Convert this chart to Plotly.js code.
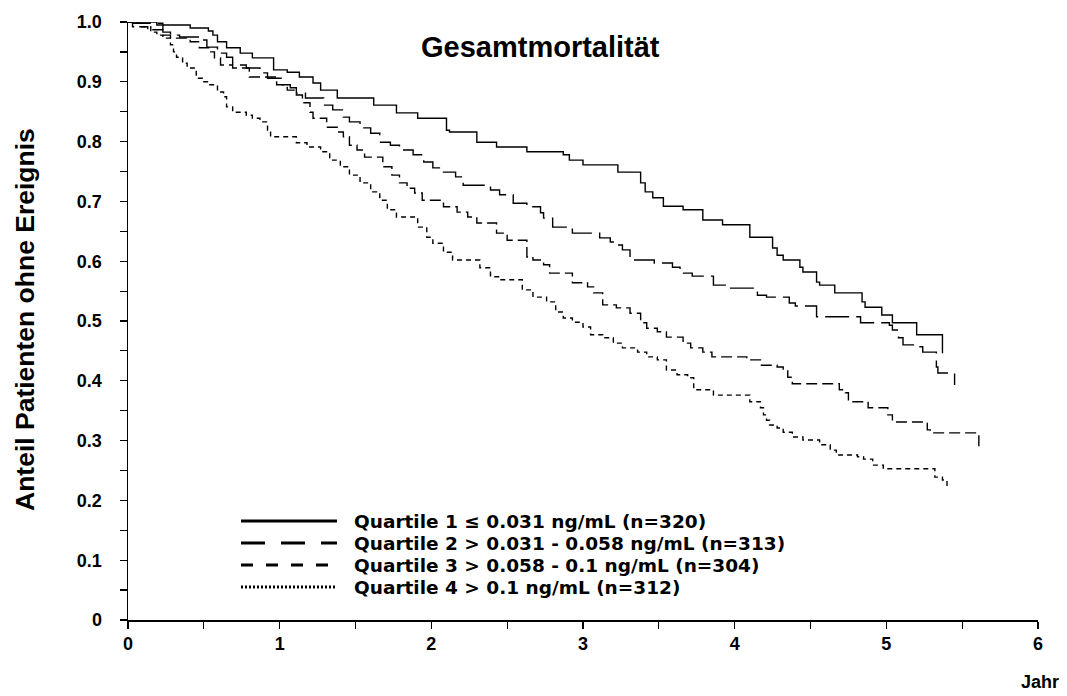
<!DOCTYPE html>
<html>
<head>
<meta charset="utf-8">
<script src="https://cdn.plot.ly/plotly-3.0.1.min.js"></script>
<style>html,body{margin:0;padding:0;background:#fff}#chart{width:1067px;height:696px}</style>
</head>
<body>
<div id="chart"></div>
<script>
// Kaplan-Meier step data (years, proportion without event)
const q1_t = [0,0.19,0.41,0.53,0.56,0.59,0.65,0.74,0.82,0.96,1.05,1.13,1.22,1.27,1.38,1.62,1.77,1.91,2.10,2.12,2.30,2.43,2.63,2.87,2.91,3.00,3.23,3.38,3.41,3.46,3.53,3.66,3.79,3.92,4.10,4.25,4.28,4.32,4.43,4.45,4.54,4.56,4.66,4.84,4.86,4.97,5.04,5.20,5.37];
const q1_s = [1.000,0.995,0.990,0.985,0.978,0.967,0.957,0.948,0.940,0.920,0.916,0.908,0.898,0.886,0.873,0.861,0.848,0.839,0.819,0.816,0.799,0.791,0.783,0.778,0.769,0.761,0.749,0.731,0.716,0.706,0.692,0.686,0.669,0.661,0.640,0.622,0.610,0.602,0.590,0.582,0.565,0.560,0.547,0.532,0.523,0.510,0.497,0.477,0.446];

const q2_t = [0,0.03,0.23,0.28,0.34,0.47,0.52,0.59,0.65,0.69,0.78,0.87,0.92,1.02,1.07,1.11,1.17,1.29,1.35,1.42,1.46,1.53,1.60,1.66,1.73,1.79,1.88,1.95,2.01,2.08,2.16,2.21,2.39,2.45,2.54,2.63,2.72,2.74,2.80,2.93,3.11,3.18,3.23,3.26,3.31,3.47,3.59,3.64,3.72,3.86,3.95,4.15,4.21,4.36,4.40,4.54,4.83,5.02,5.04,5.08,5.11,5.19,5.24,5.33,5.34,5.45];
const q2_s = [1.000,0.998,0.983,0.978,0.975,0.970,0.958,0.948,0.941,0.928,0.923,0.915,0.906,0.895,0.890,0.881,0.873,0.861,0.853,0.841,0.833,0.823,0.814,0.799,0.794,0.786,0.778,0.766,0.756,0.749,0.741,0.727,0.719,0.711,0.697,0.691,0.681,0.672,0.657,0.647,0.639,0.632,0.627,0.619,0.602,0.597,0.590,0.580,0.575,0.560,0.555,0.543,0.540,0.530,0.525,0.507,0.497,0.493,0.485,0.472,0.460,0.457,0.448,0.423,0.413,0.393];

const q3_t = [0,0.03,0.13,0.23,0.28,0.41,0.47,0.54,0.57,0.61,0.69,0.80,0.98,1.05,1.11,1.15,1.20,1.22,1.31,1.38,1.42,1.46,1.51,1.56,1.68,1.74,1.79,1.84,1.89,1.94,2.08,2.17,2.24,2.30,2.43,2.50,2.63,2.67,2.74,2.78,2.93,3.03,3.07,3.13,3.22,3.31,3.38,3.42,3.49,3.55,3.66,3.71,3.79,3.85,4.08,4.17,4.28,4.32,4.35,4.38,4.69,4.73,4.75,4.88,5.01,5.04,5.27,5.29,5.61];
const q3_s = [1.000,0.992,0.987,0.978,0.973,0.967,0.957,0.950,0.940,0.928,0.923,0.908,0.895,0.886,0.878,0.865,0.849,0.839,0.824,0.816,0.808,0.794,0.786,0.774,0.758,0.744,0.731,0.722,0.714,0.702,0.691,0.682,0.674,0.664,0.647,0.635,0.607,0.602,0.594,0.580,0.564,0.557,0.547,0.527,0.522,0.513,0.497,0.488,0.482,0.473,0.463,0.455,0.448,0.440,0.435,0.426,0.423,0.418,0.406,0.395,0.385,0.380,0.365,0.355,0.343,0.331,0.318,0.313,0.288];

const q4_t = [0,0.03,0.08,0.15,0.19,0.23,0.28,0.30,0.32,0.36,0.39,0.45,0.49,0.54,0.59,0.63,0.65,0.69,0.78,0.82,0.87,0.92,0.94,1.11,1.18,1.27,1.33,1.40,1.46,1.53,1.60,1.66,1.71,1.77,1.91,1.97,2.01,2.08,2.14,2.32,2.39,2.45,2.60,2.67,2.76,2.82,2.87,2.93,3.00,3.05,3.13,3.20,3.26,3.36,3.42,3.49,3.55,3.62,3.69,3.73,3.86,4.10,4.17,4.19,4.21,4.23,4.28,4.32,4.38,4.45,4.56,4.63,4.67,4.81,4.85,4.91,4.98,5.32,5.37,5.40];
const q4_s = [1.000,0.998,0.992,0.983,0.978,0.973,0.962,0.950,0.941,0.931,0.923,0.906,0.900,0.895,0.883,0.875,0.858,0.849,0.844,0.839,0.833,0.819,0.808,0.798,0.791,0.783,0.769,0.758,0.744,0.731,0.716,0.702,0.686,0.674,0.657,0.640,0.630,0.615,0.602,0.589,0.574,0.569,0.552,0.540,0.532,0.515,0.505,0.498,0.490,0.477,0.472,0.463,0.455,0.448,0.440,0.435,0.418,0.410,0.405,0.385,0.376,0.365,0.355,0.343,0.334,0.326,0.321,0.314,0.306,0.301,0.293,0.284,0.276,0.273,0.269,0.259,0.253,0.239,0.234,0.222];

const legendLabels = [
  "Quartile 1 \u2264 0.031 ng/mL (n=320)",
  "Quartile 2 > 0.031 - 0.058 ng/mL (n=313)",
  "Quartile 3 > 0.058 - 0.1 ng/mL (n=304)",
  "Quartile 4 > 0.1 ng/mL (n=312)"
];
const xTickVals = [0,1,2,3,4,5,6];
const yTickVals = [0,0.1,0.2,0.3,0.4,0.5,0.6,0.7,0.8,0.9,1.0];
const yTickText = ["0","0.1","0.2","0.3","0.4","0.5","0.6","0.7","0.8","0.9","1.0"];

const FONT = "Liberation Sans, Arial, sans-serif";
const LEGFONT = "DejaVu Sans, Liberation Sans, sans-serif";
const curveDash = ["solid","24px,7px","11px,5px","5px,4px"];
const legendDash = ["solid","24px,16px","12px,13px","2px,2px"];
const series = [[q1_t,q1_s],[q2_t,q2_s],[q3_t,q3_s],[q4_t,q4_s]];

const traces = series.map((s,i)=>({
  x: s[0], y: s[1], type:'scatter', mode:'lines',
  line:{shape:'hv', color:'#000', width:1.4, dash:curveDash[i]},
  showlegend:false, hoverinfo:'skip'
}));

// legend rows in paper coordinates
const plotL=128, plotR=1038, plotT=22, plotB=620;
const pw=plotR-plotL, ph=plotB-plotT;
const px = x => (x-plotL)/pw;
const py = y => (plotB-y)/ph;
const rowY = [521,543,565,587];
const shapes = [];
const annotations = [];
rowY.forEach((y,i)=>{
  shapes.push({type:'line', xref:'paper', yref:'paper', x0:px(241), x1:px(337), y0:py(y), y1:py(y),
    line:{color:'#000', width:3, dash:legendDash[i]}});
  annotations.push({xref:'paper', yref:'paper', x:px(352), y:py(y), xanchor:'left', yanchor:'middle',
    text:'<b>'+legendLabels[i]+'</b>', showarrow:false, font:{family:LEGFONT, size:18.5, color:'#000'}});
});
annotations.push({xref:'paper', yref:'paper', x:px(540), y:py(47), xanchor:'center', yanchor:'middle',
  text:'<b>Gesamtmortalität</b>', showarrow:false, font:{family:FONT, size:29, color:'#000'}});
annotations.push({xref:'paper', yref:'paper', x:px(1040), y:py(682), xanchor:'center', yanchor:'middle',
  text:'<b>Jahr</b>', showarrow:false, font:{family:FONT, size:18, color:'#000'}});
annotations.push({xref:'paper', yref:'paper', x:px(25), y:py(320), xanchor:'center', yanchor:'middle', textangle:-90,
  text:'<b>Anteil Patienten ohne Ereignis</b>', showarrow:false, font:{family:FONT, size:26.5, color:'#000'}});

const layout = {
  width:1067, height:696,
  margin:{l:plotL, r:1067-plotR, t:plotT, b:696-plotB},
  paper_bgcolor:'#fff', plot_bgcolor:'#fff',
  showlegend:false,
  font:{family:FONT, color:'#000'},
  xaxis:{range:[0,6], showgrid:false, zeroline:false, showline:true, linecolor:'#000', linewidth:1.5,
    ticks:'outside', ticklen:7, tickwidth:1.2, tickcolor:'#000', tickvals:xTickVals,
    ticktext:xTickVals.map(v=>'<b>'+v+'</b>'), tickfont:{family:FONT, size:18, color:'#000'},
    minor:{tickvals:[0.5,1.5,2.5,3.5,4.5,5.5], ticks:'outside', ticklen:7, tickwidth:1.2, tickcolor:'#000', showgrid:false},
    fixedrange:true},
  yaxis:{range:[0,1], showgrid:false, zeroline:false, showline:true, linecolor:'#000', linewidth:1.5,
    ticks:'outside', ticklen:7, tickwidth:1.2, tickcolor:'#000', tickvals:yTickVals,
    ticktext:yTickText.map(v=>'<b>'+v+'</b>'), tickfont:{family:FONT, size:18, color:'#000'},
    ticklabelstandoff:14,
    minor:{tickvals:[0.05,0.15,0.25,0.35,0.45,0.55,0.65,0.75,0.85,0.95], ticks:'outside', ticklen:7, tickwidth:1.2, tickcolor:'#000', showgrid:false},
    fixedrange:true},
  shapes:shapes,
  annotations:annotations
};
Plotly.newPlot('chart', traces, layout, {staticPlot:true, displayModeBar:false});
</script>
</body>
</html>
